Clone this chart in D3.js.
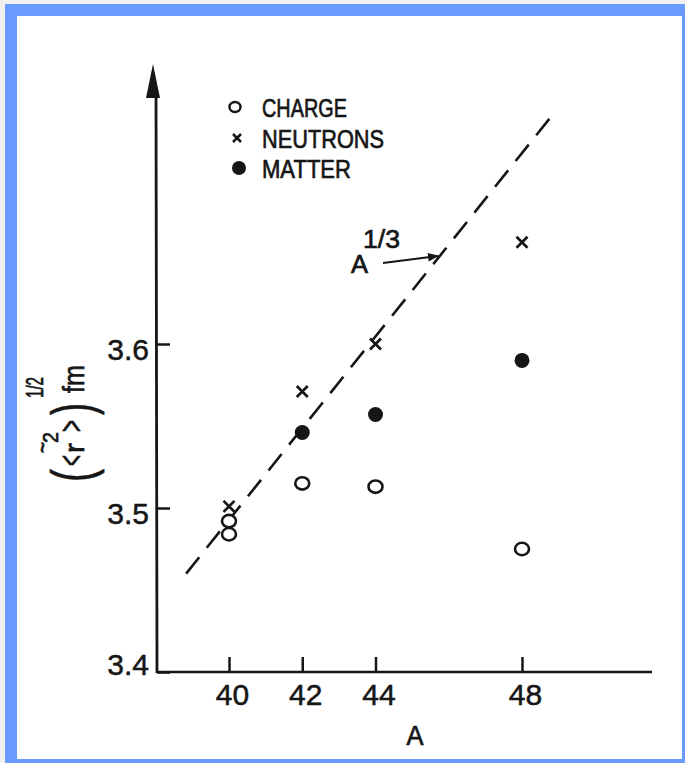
<!DOCTYPE html>
<html>
<head>
<meta charset="utf-8">
<script src="https://cdn.jsdelivr.net/npm/d3@7"></script>
<style>
  html, body { margin: 0; padding: 0; background: #f0f0f0; }
  svg { display: block; }
  .lbl { font-family: "Liberation Sans", Arial, sans-serif; fill: #161616; stroke: #161616; stroke-width: 0.7px; }
  .num { font-family: "Liberation Sans", Arial, sans-serif; fill: #161616; stroke: #161616; stroke-width: 0.5px; }
</style>
</head>
<body>
<div id="chart"></div>
<script>
// datos
var chargeA = [40, 40, 42, 44, 48];
var chargeR = [3.492, 3.484, 3.515, 3.513, 3.475];
var neutronA = [40, 42, 44, 48];
var neutronR = [3.501, 3.571, 3.600, 3.662];
var matterA = [42, 44, 48];
var matterR = [3.546, 3.557, 3.590];
var lineA = [38.83, 48.95];      // recta A^1/3 (extremos)
var lineR = [3.460, 3.743];
var xTicks = [40, 42, 44, 48];
var yTicks = [3.4, 3.5, 3.6];
var legendLabels = ["CHARGE", "NEUTRONS", "MATTER"];

var W = 685, H = 763;
var ink = "#161616";

var svg = d3.select("#chart").append("svg")
    .attr("width", W)
    .attr("height", H);

// fondo y marco azul
svg.append("rect").attr("width", W).attr("height", H).attr("fill", "#f0f0f0");
svg.append("rect")
    .attr("x", 11).attr("y", 10)
    .attr("width", 677).attr("height", 755)
    .attr("fill", "#ffffff")
    .attr("stroke", "#6a9bff")
    .attr("stroke-width", 12);

// escalas
var x = d3.scaleLinear().domain([40, 48]).range([229, 522]);
var y = d3.scaleLinear().domain([3.4, 3.6]).range([672, 344]);

var axisX0 = 157, axisY0 = 672;

// ejes
svg.append("line")
    .attr("x1", axisX0).attr("x2", 652)
    .attr("y1", axisY0).attr("y2", axisY0)
    .attr("stroke", ink).attr("stroke-width", 2.6);
svg.append("line")
    .attr("x1", axisX0).attr("x2", axisX0 - 1)
    .attr("y1", axisY0 + 1).attr("y2", 90)
    .attr("stroke", ink).attr("stroke-width", 2.8);
// flecha del eje y
svg.append("path")
    .attr("d", "M" + (axisX0 - 4) + ",64 L" + (axisX0 + 3) + ",98 L" + (axisX0 - 11) + ",98 Z")
    .attr("fill", ink);

var gy = svg.append("g")
    .attr("transform", "translate(" + axisX0 + ",0)")
    .call(d3.axisLeft(y).tickValues(yTicks).tickSize(-13).tickPadding(8).tickFormat(d3.format(".1f")));
gy.select(".domain").remove();
gy.selectAll(".tick line").attr("stroke", ink).attr("stroke-width", 2.5);
gy.selectAll(".tick text")
    .attr("class", "num")
    .attr("fill", ink)
    .style("font-size", "30px")
    .attr("dy", function(d) { return d === 3.4 ? "0.07em" : "0.5em"; });

var gx = svg.append("g")
    .attr("transform", "translate(0," + axisY0 + ")")
    .call(d3.axisBottom(x).tickValues(xTicks).tickSize(-15).tickPadding(12));
gx.select(".domain").remove();
gx.selectAll(".tick line").attr("stroke", ink).attr("stroke-width", 2.5);
gx.selectAll(".tick text")
    .attr("class", "num")
    .attr("fill", ink)
    .attr("dx", "0.1em")
    .style("font-size", "30px");

// titulo eje x
svg.append("text")
    .attr("class", "lbl")
    .attr("x", 415).attr("y", 745)
    .attr("text-anchor", "middle")
    .style("font-size", "27px")
    .attr("textLength", 17)
    .attr("lengthAdjust", "spacingAndGlyphs")
    .text("A");

// titulo eje y (rotado)
var yl = svg.append("g").attr("transform", "translate(84,482) rotate(-90)");
function piece(txt, lx, ly, fs, len) {
  yl.append("text").attr("class", "lbl")
    .attr("x", lx).attr("y", ly)
    .style("font-size", fs + "px")
    .attr("textLength", len)
    .attr("lengthAdjust", "spacingAndGlyphs")
    .text(txt);
}
piece("(", 0, 8, 57, 13);
piece("<", 16, -1, 35, 11);
piece("r", 29, 0, 28, 10);
piece("~", 29, -33, 26, 11);
piece("2", 39, -26, 22, 11);
piece(">", 50, -1, 35, 12);
piece(")", 67, 8, 57, 12);
piece("1/2", 84, -41, 24, 21);
piece("fm", 89, 0, 30, 28);

// recta discontinua
var linea = d3.line()
    .x(function(d) { return x(d[0]); })
    .y(function(d) { return y(d[1]); });
svg.append("path")
    .datum(d3.zip(lineA, lineR))
    .attr("fill", "none")
    .attr("stroke", ink)
    .attr("stroke-width", 2.6)
    .attr("stroke-dasharray", "21,12")
    .attr("d", linea);

// anotacion A^1/3
svg.append("defs").append("marker")
    .attr("id", "punta")
    .attr("viewBox", "0 0 10 10")
    .attr("refX", 9).attr("refY", 5)
    .attr("markerWidth", 6).attr("markerHeight", 5)
    .attr("markerUnits", "strokeWidth")
    .attr("orient", "auto")
    .append("path").attr("d", "M0,1 L10,5 L0,9 Z").attr("fill", ink);
svg.append("line")
    .attr("x1", 383).attr("y1", 263)
    .attr("x2", 438).attr("y2", 256)
    .attr("stroke", ink).attr("stroke-width", 2.2)
    .attr("marker-end", "url(#punta)");
svg.append("text").attr("class", "lbl")
    .attr("x", 351).attr("y", 273)
    .style("font-size", "26px")
    .attr("textLength", 17)
    .attr("lengthAdjust", "spacingAndGlyphs")
    .text("A");
svg.append("text").attr("class", "lbl")
    .attr("x", 363).attr("y", 248)
    .style("font-size", "26px")
    .attr("textLength", 37)
    .attr("lengthAdjust", "spacingAndGlyphs")
    .text("1/3");

// simbolos
function cruz(g, cx, cy, s, w) {
  g.append("path")
    .attr("d", "M" + (cx - s) + "," + (cy - s) + "L" + (cx + s) + "," + (cy + s) +
               "M" + (cx - s) + "," + (cy + s) + "L" + (cx + s) + "," + (cy - s))
    .attr("stroke", ink).attr("stroke-width", w).attr("fill", "none");
}

svg.append("g").selectAll("ellipse")
    .data(d3.zip(chargeA, chargeR))
    .enter().append("ellipse")
    .attr("cx", function(d) { return x(d[0]); })
    .attr("cy", function(d) { return y(d[1]); })
    .attr("rx", 7).attr("ry", 6.2)
    .attr("fill", "#fff")
    .attr("stroke", ink)
    .attr("stroke-width", 2.6);

var gn = svg.append("g");
d3.zip(neutronA, neutronR).forEach(function(d) {
  cruz(gn, x(d[0]), y(d[1]), 5.5, 2.7);
});

svg.append("g").selectAll("circle")
    .data(d3.zip(matterA, matterR))
    .enter().append("circle")
    .attr("cx", function(d) { return x(d[0]); })
    .attr("cy", function(d) { return y(d[1]); })
    .attr("r", 7.5)
    .attr("fill", ink);

// leyenda
var leg = svg.append("g");
var legY = [107, 138, 168];
var legLen = [85, 122, 89];
leg.append("ellipse").attr("cx", 235).attr("cy", legY[0])
    .attr("rx", 5.5).attr("ry", 5).attr("fill", "none")
    .attr("stroke", ink).attr("stroke-width", 2.5);
cruz(leg, 237, legY[1], 4, 2.5);
leg.append("circle").attr("cx", 239).attr("cy", legY[2]).attr("r", 7).attr("fill", ink);
leg.selectAll("text")
    .data(legendLabels)
    .enter().append("text")
    .attr("class", "lbl")
    .attr("x", 262)
    .attr("y", function(d, i) { return legY[i] + 10; })
    .style("font-size", "26px")
    .attr("textLength", function(d, i) { return legLen[i]; })
    .attr("lengthAdjust", "spacingAndGlyphs")
    .text(function(d) { return d; });
</script>
</body>
</html>
